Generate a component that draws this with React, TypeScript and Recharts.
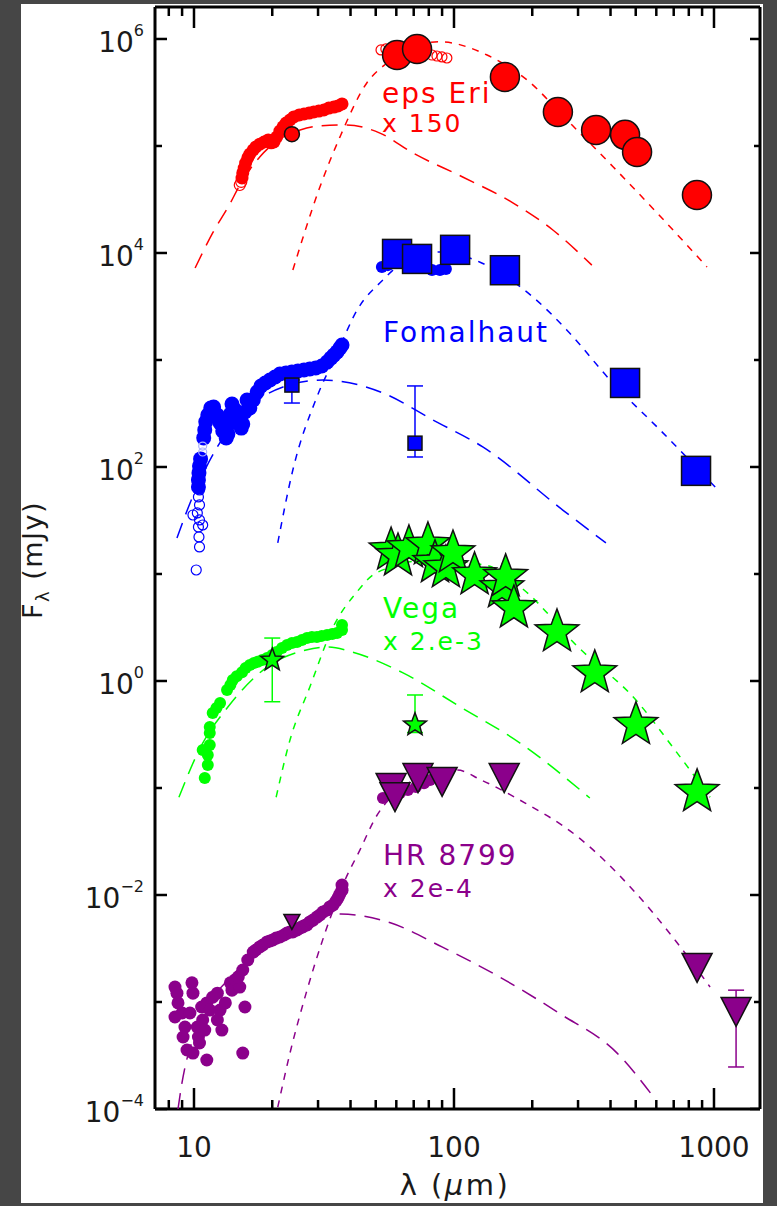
import React from "react";
import { ScatterChart, Scatter, XAxis, YAxis, ErrorBar } from "recharts";

type Pt = [number, number];
type ErrPt = [number, number, number, number]; // lambda, flux, low, high

// ---- eps Eri (x 150) ----
const epsEriPhot: Pt[] = [[60.4, 7.08e5], [72.1, 8.07e5], [157, 4.41e5], [251, 2.08e5], [352, 1.41e5], [455, 1.27e5], [506, 8.8e4], [860, 3.48e4]];
const epsEriMips: Pt[] = [[23.8, 1.29e5]];
const epsEriIrsOpen: Pt[] = [[15.0, 4.32e4], [15.2, 4.61e4]];
const epsEriIrs: Pt[] = [[15.3, 5.02e4], [15.4, 5.6e4], [15.6, 6.22e4], [15.8, 6.93e4], [16.1, 7.73e4], [16.4, 8.41e4], [16.9, 9.18e4], [17.3, 9.8e4], [17.9, 1.04e5], [18.6, 1.09e5], [19.3, 1.14e5], [19.8, 1.07e5], [20.3, 1.09e5], [20.8, 1.21e5], [21.4, 1.38e5], [22.0, 1.51e5], [22.6, 1.64e5], [23.4, 1.75e5], [24.2, 1.87e5], [25.4, 1.95e5], [26.5, 1.99e5], [27.7, 2.03e5], [28.9, 2.08e5], [30.2, 2.12e5], [31.6, 2.17e5], [33.0, 2.26e5], [34.5, 2.31e5], [35.8, 2.37e5], [37.1, 2.47e5]];
const epsEriPacsOpen: Pt[] = [[52.4, 7.9e5], [54.7, 8.07e5], [82.3, 7.08e5], [86.0, 6.93e5], [89.9, 6.79e5], [93.9, 6.64e5]];
const epsEriWarm: Pt[] = [[10.1, 7.24e3], [11.8, 1.54e4], [13.8, 2.93e4], [15.0, 4.32e4], [17.9, 7.9e4], [22.0, 1.21e5], [25.6, 1.41e5], [30.5, 1.54e5], [38.7, 1.57e5], [51.9, 1.32e5], [69.5, 8.6e4], [108, 5.13e4], [169, 2.93e4], [240, 1.64e4], [339, 7.7e3]];
const epsEriCold: Pt[] = [[24.0, 6.93e3], [30.5, 4.14e4], [36.4, 1.21e5], [46.2, 3.88e5], [55.2, 5.97e5], [68.9, 8.6e5], [88.3, 9.4e5], [134, 7.08e5], [191, 4.14e5], [272, 1.75e5], [409, 6.4e4], [604, 2.37e4], [940, 7.4e3]];

// ---- Fomalhaut ----
const fomPhot: Pt[] = [[60.4, 9.8e3], [72.1, 8.8e3], [101, 1.07e4], [157, 6.9e3], [455, 610], [853, 92]];
const fomSmall: ErrPt[] = [[23.8, 583, 396, 650], [70.8, 167, 124, 572]];
const fomIrsOpen: Pt[] = [[10.2, 10.9], [10.5, 17.9], [10.45, 22.2], [10.4, 27.5], [10.8, 28.7], [10.5, 32.0], [9.91, 35.6], [10.3, 37.2], [10.5, 44.2], [10.4, 52.5], [10.5, 61.0]];
const fomIrs: Pt[] = [[10.4, 65.0], [10.4, 75.7], [10.45, 88.0], [10.5, 102], [10.6, 119], [10.9, 187], [11.0, 222], [11.1, 264], [11.3, 306], [11.6, 356], [11.9, 364], [12.3, 306], [12.6, 258], [12.9, 217], [13.3, 187], [13.5, 203], [13.6, 252], [13.8, 313], [14.0, 388], [14.4, 341], [14.8, 281], [15.2, 231], [15.4, 252], [15.7, 327], [16.0, 423], [16.4, 356], [16.9, 423], [17.5, 502], [18.1, 571], [18.8, 610], [19.6, 650], [20.5, 693], [21.4, 740], [22.6, 757], [23.8, 773], [25.1, 789], [26.5, 807], [27.9, 824], [29.4, 841], [31.0, 879], [32.5, 957], [33.6, 1040], [34.5, 1110], [35.5, 1190], [36.4, 1290], [37.1, 1380]];
const fomIrsOpenMid: Pt[] = [[10.8, 138], [10.8, 157]];
const fomPacs: Pt[] = [[52.8, 7.4e3], [55.7, 7.7e3], [82.3, 6.93e3], [88.3, 6.93e3], [93.1, 7.08e3]];
const fomWarm: Pt[] = [[8.6, 21.7], [9.66, 46.1], [12.3, 154], [16.4, 364], [22.0, 560], [31.3, 650], [53.3, 492], [83.0, 275], [129, 154], [262, 39.6], [384, 19.5]];
const fomCold: Pt[] = [[21.0, 19.5], [24.0, 93.8], [29.7, 451], [35.5, 1160], [42.4, 2930], [53.3, 5600], [60.4, 7400], [88.3, 10200], [126, 8200], [201, 3880], [272, 1900], [405, 622], [620, 222], [1018, 63.7]];

// ---- Vega (x 2.e-3) ----
const vegaPhot: Pt[] = [[57.3, 16.7], [60.9, 14.7], [67.1, 17.5], [79.4, 18.7], [84.5, 12.7], [93.1, 11.4], [99.1, 15.7], [120, 9.8], [153, 7.4], [158, 9.4], [170, 4.8], [249, 2.87], [348, 1.19], [501, 0.39], [861, 0.092]];
const vegaSmall: ErrPt[] = [[20.0, 1.57, 0.64, 2.52], [70.8, 0.39, 0.33, 0.74]];
const vegaIrs: Pt[] = [[11.0, 0.124], [11.3, 0.164], [11.3, 0.203], [10.8, 0.226], [11.5, 0.252], [11.5, 0.327], [11.5, 0.372], [11.8, 0.502], [12.2, 0.56], [12.6, 0.622], [13.4, 0.824], [13.8, 0.918], [14.1, 1.02], [14.6, 1.11], [15.3, 1.21], [15.8, 1.32], [16.4, 1.41], [17.0, 1.47], [17.6, 1.51], [18.3, 1.57], [19.1, 1.64], [20.0, 1.75], [20.8, 1.87], [21.8, 2.03], [22.8, 2.17], [23.8, 2.26], [24.9, 2.31], [26.0, 2.42], [27.2, 2.52], [28.4, 2.58], [29.7, 2.58], [31.0, 2.64], [32.5, 2.69], [34.0, 2.75], [35.5, 2.81], [37.1, 3.0], [37.1, 3.34]];
const vegaWarm: Pt[] = [[8.75, 0.082], [10.6, 0.241], [13.5, 0.571], [19.1, 1.35], [27.0, 1.95], [33.0, 2.08], [40.5, 1.87], [63.7, 1.19], [106, 0.571], [179, 0.264], [333, 0.0807]];
const vegaCold: Pt[] = [[20.7, 0.082], [23.4, 0.281], [27.9, 0.879], [34.3, 3.2], [42.0, 6.64], [50.1, 10.2], [80.9, 13.5], [132, 12.1], [186, 7.08], [300, 2.08], [501, 0.664], [708, 0.226], [966, 0.082]];

// ---- HR 8799 (x 2e-4) ----
const hrPhot: Pt[] = [[57.3, 0.1], [59.3, 0.082], [72.7, 0.124], [90, 0.114], [156, 0.124], [861, 2.08e-3]];
const hrLast: ErrPt[] = [[1216, 8.07e-4, 2.47e-4, 1.29e-3]];
const hrSmall: Pt[] = [[23.8, 5.6e-3]];
const hrIrs: Pt[] = [[8.45, 1.38e-3], [8.6, 1.21e-3], [8.68, 9.8e-4], [8.45, 7.24e-4], [9.0, 7.89e-4], [9.23, 5.83e-4], [9.08, 4.71e-4], [9.4, 3.56e-4], [9.91, 3.33e-4], [9.82, 1.51e-3], [9.91, 1.21e-3], [9.65, 7.89e-4], [10.3, 5.83e-4], [10.4, 4.71e-4], [10.7, 8.98e-4], [10.8, 6.79e-4], [11.0, 5.47e-4], [10.5, 4.14e-4], [11.2, 9.8e-4], [11.5, 8.41e-4], [11.8, 1.11e-3], [12.3, 6.79e-4], [12.6, 8.41e-4], [12.8, 5.47e-4], [12.3, 1.21e-3], [13.2, 9.8e-4], [13.8, 1.51e-3], [14.0, 1.29e-3], [14.4, 1.61e-3], [15.0, 1.38e-3], [15.7, 8.98e-4], [15.4, 3.33e-4], [11.2, 2.87e-4], [14.8, 1.71e-3], [15.4, 1.99e-3], [16.1, 2.47e-3], [16.9, 2.93e-3], [17.3, 3.06e-3], [17.9, 3.27e-3], [18.4, 3.41e-3], [19.1, 3.64e-3], [19.6, 3.72e-3], [20.1, 3.8e-3], [20.7, 3.96e-3], [21.4, 4.05e-3], [22.2, 4.23e-3], [22.8, 4.41e-3], [23.4, 4.51e-3], [24.0, 4.51e-3], [24.9, 4.71e-3], [25.6, 4.92e-3], [26.2, 5.02e-3], [27.2, 5.25e-3], [27.9, 5.6e-3], [28.7, 5.83e-3], [29.7, 6.22e-3], [30.5, 6.5e-3], [31.3, 6.93e-3], [32.5, 7.24e-3], [33.3, 7.73e-3], [34.3, 8.07e-3], [35.2, 8.79e-3], [35.8, 9.38e-3], [36.4, 0.0102], [37.1, 0.0111], [37.1, 0.0124]];
const hrPacs: Pt[] = [[53.3, 0.0807], [57.8, 0.0841], [62.0, 0.0898], [66.5, 0.0957], [71.4, 0.102], [76.7, 0.111], [80.9, 0.119]];
const hrWarm: Pt[] = [[8.68, 1e-4], [8.9, 1.51e-4], [10.6, 6.79e-4], [13.5, 1.61e-3], [17.8, 2.87e-3], [23.4, 5.02e-3], [30.8, 6.5e-3], [36.7, 6.64e-3], [57.3, 5.47e-3], [89.9, 3.27e-3], [150, 1.71e-3], [253, 7.89e-4], [424, 3.33e-4], [598, 1.21e-4]];
const hrCold: Pt[] = [[21.0, 1.04e-4], [23.4, 3.33e-4], [27.0, 1.21e-3], [31.9, 4.41e-3], [38.1, 0.0138], [43.5, 0.0264], [50.1, 0.0536], [57.3, 0.0824], [75.3, 0.127], [103, 0.147], [127, 0.119], [179, 0.0773], [300, 0.0348], [501, 0.0104], [708, 3.8e-3], [966, 1.38e-3]];

// ---- axes ----
const xTicks = [8, 9, 10, 20, 30, 40, 50, 60, 70, 80, 90, 100, 200, 300, 400, 500, 600, 700, 800, 900, 1000];
const xLabels = [10, 100, 1000];
const yTicks = [1e-4, 1e-3, 1e-2, 1e-1, 1, 10, 100, 1e3, 1e4, 1e5, 1e6];

const RED = "#ff0000";
const BLUE = "#0000ff";
const GREEN = "#00ff00";
const PURPLE = "#8b008b";
const FONT = "DejaVu Sans";
const LONG = "16 9";
const SHORT = "7 7";

const xy = (pts: Pt[]) => pts.map(([x, y]) => ({ x, y }));
const xyErr = (pts: ErrPt[]) => pts.map(([x, y, lo, hi]) => ({ x, y, err: [y - lo, hi - y] }));
const expOf = (v: number) => Math.round(Math.log10(v));
const supText = (e: number) => (e < 0 ? `\u2212${-e}` : `${e}`);

// marker shapes
const dot = (r: number, fill: string, stroke = "none", sw = 0) => (p: any) => (
  <circle cx={p.cx} cy={p.cy} r={r} fill={fill} stroke={stroke} strokeWidth={sw} />
);
const ring = (r: number, color: string) => (p: any) => (
  <circle cx={p.cx} cy={p.cy} r={r} fill="none" stroke={color} strokeWidth={1.2} />
);
const square = (s: number, fill: string) => (p: any) => (
  <rect x={p.cx - s / 2} y={p.cy - s / 2} width={s} height={s} fill={fill} stroke="#111" strokeWidth={1.5} />
);
const star = (R: number, fill: string) => (p: any) => {
  const pts: string[] = [];
  for (let i = 0; i < 10; i++) {
    const rr = i % 2 === 0 ? R : R * 0.42;
    const a = -Math.PI / 2 + (i * Math.PI) / 5;
    pts.push(`${p.cx + rr * Math.cos(a)},${p.cy + rr * Math.sin(a)}`);
  }
  return <polygon points={pts.join(" ")} fill={fill} stroke="#111" strokeWidth={1.5} />;
};
const triDown = (w: number, h: number, fill: string) => (p: any) => (
  <polygon
    points={`${p.cx - w / 2},${p.cy - h / 2} ${p.cx + w / 2},${p.cy - h / 2} ${p.cx},${p.cy + h / 2}`}
    fill={fill}
    stroke="#111"
    strokeWidth={1.5}
  />
);
const none = () => <g />;

const BottomTick = ({ x, y, payload }: any) => {
  const major = xLabels.includes(payload.value);
  return (
    <g>
      <line x1={x} x2={x} y1={y} y2={y - (major ? 21 : 9)} stroke="#000" strokeWidth={2.5} />
      {major && (
        <text x={x} y={y + 48} textAnchor="middle" fontSize={28} fontFamily={FONT} fill="#1a1a1a">
          {payload.value}
        </text>
      )}
    </g>
  );
};

const TopTick = ({ x, y, payload }: any) => {
  const major = xLabels.includes(payload.value);
  return <line x1={x} x2={x} y1={y} y2={y + (major ? 21 : 9)} stroke="#000" strokeWidth={2.5} />;
};

const LeftTick = ({ x, y, payload }: any) => {
  const e = expOf(payload.value);
  const major = e % 2 === 0;
  return (
    <g>
      <line x1={x} x2={x + (major ? 12 : 7)} y1={y} y2={y} stroke="#000" strokeWidth={2.5} />
      {major && (
        <text x={x - 11} y={y + 13} textAnchor="end" fontSize={28} fontFamily={FONT} fill="#1a1a1a">
          10
          <tspan dy={-16} fontSize={16}>
            {supText(e)}
          </tspan>
        </text>
      )}
    </g>
  );
};

const RightTick = ({ x, y, payload }: any) => {
  const major = expOf(payload.value) % 2 === 0;
  return <line x1={x} x2={x - (major ? 10 : 6)} y1={y} y2={y} stroke="#000" strokeWidth={2.5} />;
};

const axisLine = { stroke: "#000", strokeWidth: 3 };

const curve = (key: string, pts: Pt[], color: string, dash: string) => (
  <Scatter
    key={key}
    data={xy(pts)}
    line={{ stroke: color, strokeWidth: 1.5, strokeDasharray: dash }}
    lineJointType="monotoneX"
    shape={none}
    isAnimationActive={false}
  />
);

const pts = (key: string, data: Pt[], shape: any) => (
  <Scatter key={key} data={xy(data)} shape={shape} isAnimationActive={false} />
);

const labelStyle = { fontFamily: FONT, letterSpacing: 2 };

export default function App() {
  return (
    <div style={{ position: "relative", width: 777, height: 1206, background: "#464646" }}>
      <style>{"body{margin:0;}"}</style>
      <div style={{ position: "absolute", left: 21, top: 4, width: 742, height: 1199, background: "#fff" }} />
      <div style={{ position: "absolute", left: 0, top: 0 }}>
        <ScatterChart width={777} height={1206} margin={{ top: 0, right: 0, bottom: 0, left: 0 }}>
          <XAxis
            xAxisId={0}
            dataKey="x"
            type="number"
            scale="log"
            domain={[7.08, 1503]}
            allowDataOverflow
            ticks={xTicks}
            interval={0}
            height={97}
            tickSize={0}
            tickMargin={0}
            tickLine={false}
            axisLine={axisLine}
            tick={BottomTick}
          />
          <XAxis
            xAxisId="top"
            orientation="top"
            dataKey="x"
            type="number"
            scale="log"
            domain={[7.08, 1503]}
            allowDataOverflow
            ticks={xTicks}
            interval={0}
            height={7}
            tickSize={0}
            tickMargin={0}
            tickLine={false}
            axisLine={axisLine}
            tick={TopTick}
          />
          <YAxis
            yAxisId={0}
            dataKey="y"
            type="number"
            scale="log"
            domain={[1e-4, 1.99e6]}
            allowDataOverflow
            ticks={yTicks}
            interval={0}
            width={155}
            tickSize={0}
            tickMargin={0}
            tickLine={false}
            axisLine={axisLine}
            tick={LeftTick}
          />
          <YAxis
            yAxisId="right"
            orientation="right"
            dataKey="y"
            type="number"
            scale="log"
            domain={[1e-4, 1.99e6]}
            allowDataOverflow
            ticks={yTicks}
            interval={0}
            width={17}
            tickSize={0}
            tickMargin={0}
            tickLine={false}
            axisLine={axisLine}
            tick={RightTick}
          />

          {curve("eW", epsEriWarm, RED, LONG)}
          {curve("eC", epsEriCold, RED, SHORT)}
          {curve("fW", fomWarm, BLUE, LONG)}
          {curve("fC", fomCold, BLUE, SHORT)}
          {curve("vW", vegaWarm, GREEN, LONG)}
          {curve("vC", vegaCold, GREEN, SHORT)}
          {curve("hW", hrWarm, PURPLE, LONG)}
          {curve("hC", hrCold, PURPLE, SHORT)}

          {pts("eIo", epsEriIrsOpen, ring(5.5, RED))}
          {pts("eI", epsEriIrs, dot(6.5, RED))}
          {pts("eP", epsEriPacsOpen, ring(5, RED))}
          {pts("eM", epsEriMips, dot(7.5, RED, "#111", 1.5))}
          {pts("eB", epsEriPhot, dot(14.5, RED, "#111", 1.5))}

          {pts("fIo", fomIrsOpen, ring(5, BLUE))}
          {pts("fI", fomIrs, dot(7.5, BLUE))}
          {pts("fIo2", fomIrsOpenMid, ring(4, "#aab0ff"))}
          {pts("fP", fomPacs, dot(6, BLUE))}
          <Scatter key="fS" data={xyErr(fomSmall)} shape={square(14, BLUE)} isAnimationActive={false}>
            <ErrorBar dataKey="err" direction="y" width={8} stroke={BLUE} strokeWidth={1.5} />
          </Scatter>
          {pts("fB", fomPhot, square(29, BLUE))}

          {pts("vI", vegaIrs, dot(6, GREEN))}
          <Scatter key="vS" data={xyErr(vegaSmall)} shape={star(12, GREEN)} isAnimationActive={false}>
            <ErrorBar dataKey="err" direction="y" width={8} stroke={GREEN} strokeWidth={1.5} />
          </Scatter>
          {pts("vB", vegaPhot, star(23, GREEN))}

          {pts("hI", hrIrs, dot(6.5, PURPLE))}
          {pts("hP", hrPacs, dot(6, PURPLE))}
          {pts("hS", hrSmall, triDown(16, 15, PURPLE))}
          {pts("hB", hrPhot, triDown(30, 29, PURPLE))}
          <Scatter key="hL" data={xyErr(hrLast)} shape={triDown(30, 29, PURPLE)} isAnimationActive={false}>
            <ErrorBar dataKey="err" direction="y" width={8} stroke={PURPLE} strokeWidth={1.5} />
          </Scatter>
        </ScatterChart>
      </div>
      <svg
        width={777}
        height={1206}
        style={{ position: "absolute", left: 0, top: 0, pointerEvents: "none" }}
      >
        <text x={382} y={103} fontSize={28} fill={RED} style={labelStyle}>eps Eri</text>
        <text x={382} y={132} fontSize={25} fill={RED} style={labelStyle}>x 150</text>
        <text x={383} y={342} fontSize={28} fill={BLUE} style={labelStyle}>Fomalhaut</text>
        <text x={383} y={618} fontSize={28} fill={GREEN} style={labelStyle}>Vega</text>
        <text x={383} y={650} fontSize={25} fill={GREEN} style={labelStyle}>x 2.e-3</text>
        <text x={383} y={865} fontSize={28} fill={PURPLE} style={labelStyle}>HR 8799</text>
        <text x={383} y={897} fontSize={25} fill={PURPLE} style={labelStyle}>x 2e-4</text>

        <text
          x={455}
          y={1195}
          textAnchor="middle"
          fontSize={29}
          fontFamily={FONT}
          fill="#1a1a1a"
          style={{ letterSpacing: 2.5 }}
        >
          λ (<tspan fontStyle="italic">μ</tspan>m)
        </text>
        <text
          x={42}
          y={560}
          textAnchor="middle"
          fontSize={27}
          fontFamily={FONT}
          fill="#1a1a1a"
          transform="rotate(-90 42 560)"
          style={{ letterSpacing: 1.5 }}
        >
          F<tspan dy={7} fontSize={18}>λ</tspan>
          <tspan dy={-7}> (mJy)</tspan>
        </text>
      </svg>
    </div>
  );
}
